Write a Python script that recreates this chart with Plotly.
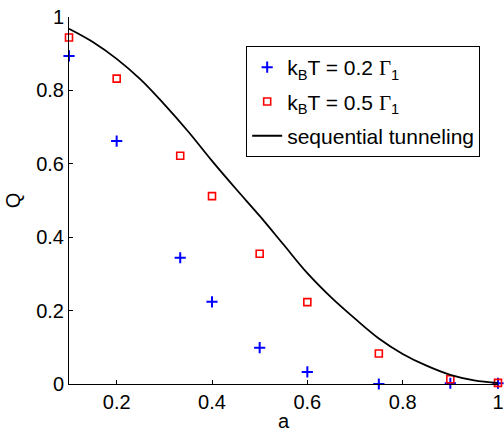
import plotly.graph_objects as go

# Data
a_points = [0.1, 0.2, 1/3, 0.4, 0.5, 0.6, 0.75, 0.9, 1.0]
q_kT02 = [0.894, 0.662, 0.344, 0.224, 0.099, 0.033, 0.0, 0.002, 0.002]
q_kT05 = [0.944, 0.832, 0.622, 0.512, 0.355, 0.223, 0.083, 0.013, 0.003]

a_curve = [0.10, 0.15, 0.20, 0.25, 0.30, 0.35, 0.40, 0.45, 0.50, 0.55,
           0.60, 0.65, 0.70, 0.75, 0.80, 0.85, 0.90, 0.95, 1.00]
q_seq = [0.968, 0.932, 0.886, 0.830, 0.762, 0.688, 0.608, 0.532, 0.458, 0.380,
         0.302, 0.236, 0.178, 0.124, 0.082, 0.050, 0.025, 0.010, 0.003]

x_ticks = [0.2, 0.4, 0.6, 0.8, 1.0]
x_ticklabels = ["0.2", "0.4", "0.6", "0.8", "1"]
y_ticks = [0, 0.2, 0.4, 0.6, 0.8, 1.0]
y_ticklabels = ["0", "0.2", "0.4", "0.6", "0.8", "1"]

FONT = "Liberation Sans, Arial, Helvetica, sans-serif"
GAMMA = '<span style="font-family:Liberation Serif">Γ</span>'

fig = go.Figure()
fig.add_trace(go.Scatter(
    x=a_points, y=q_kT02, mode="markers",
    name="k<sub>B</sub>T = 0.2 " + GAMMA + "<sub>1</sub>",
    legendgroup="g1",
    marker=dict(symbol="cross-thin-open", size=8, color="#0000ff",
                line=dict(color="#0000ff", width=2)),
    cliponaxis=False,
))
fig.add_trace(go.Scatter(
    x=a_points, y=q_kT05, mode="markers",
    name="k<sub>B</sub>T = 0.5 " + GAMMA + "<sub>1</sub>",
    legendgroup="g2",
    marker=dict(symbol="square-open", size=7, color="#ff0000",
                line=dict(color="#ff0000", width=1.6)),
    cliponaxis=False,
))
fig.add_trace(go.Scatter(
    x=a_curve, y=q_seq, mode="lines", name="sequential tunneling",
    legendgroup="g3",
    line=dict(color="black", width=1.8, shape="spline"),
))

fig.update_layout(
    width=504, height=432,
    margin=dict(l=69, r=6, t=17, b=48),
    paper_bgcolor="white", plot_bgcolor="white",
    font=dict(family=FONT, size=20, color="black"),
    legend=dict(
        x=0.413, y=0.921, xanchor="left", yanchor="top",
        bgcolor="white", bordercolor="black", borderwidth=1,
        font=dict(family=FONT, size=21, color="black"),
        itemsizing="trace", tracegroupgap=4, itemwidth=30,
    ),
    showlegend=True,
)
fig.update_xaxes(
    range=[0.1, 1.0], tickvals=x_ticks, ticktext=x_ticklabels,
    showgrid=False, zeroline=False, showline=True, linecolor="black", linewidth=1,
    ticks="inside", ticklen=4, tickcolor="black", ticklabeloverflow="allow",
    automargin=False,
    title=dict(text="a", standoff=8, font=dict(size=20)),
)
fig.update_yaxes(
    range=[0, 1], tickvals=y_ticks, ticktext=y_ticklabels,
    showgrid=False, zeroline=False, showline=True, linecolor="black", linewidth=1,
    ticks="inside", ticklen=4, tickcolor="black", ticklabeloverflow="allow",
    automargin=False,
    title=dict(text="Q", standoff=10, font=dict(size=20)),
)

fig.write_html("out.html", config={"displayModeBar": False},
               post_script="document.body.style.margin='0';")
